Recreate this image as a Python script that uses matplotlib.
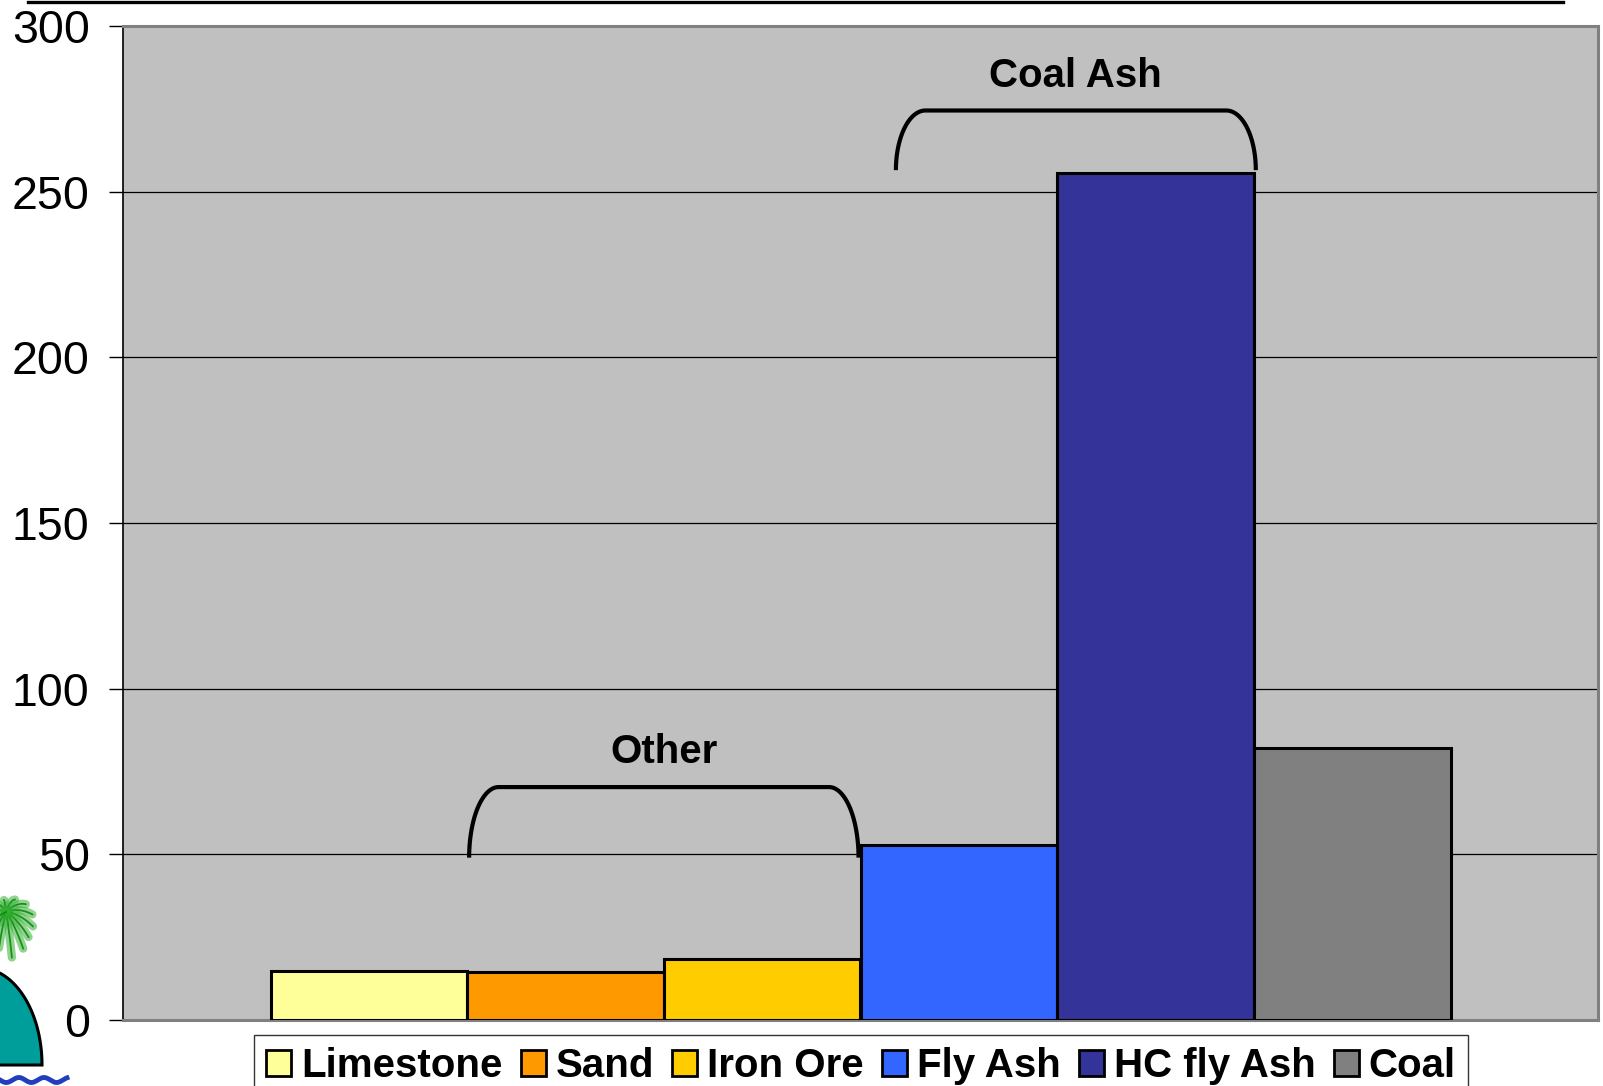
import numpy as np
import matplotlib
matplotlib.use("Agg")
import matplotlib.pyplot as plt
from matplotlib.patches import Patch, Polygon
from matplotlib.lines import Line2D

# Materials and their values
materials = ["Limestone", "Sand", "Iron Ore", "Fly Ash", "HC fly Ash", "Coal"]
values = [14.8, 14.6, 18.3, 52.9, 255.7, 82.2]
colors = ["#FFFF99", "#FF9900", "#FFCC00", "#3366FF", "#333399", "#808080"]
yticks = [0, 50, 100, 150, 200, 250, 300]

# Group brackets: (label, x_start, x_end, y_base, y_top)
groups = [
    ("Other", 0.51, 2.49, 49.0, 70.3),
    ("Coal Ash", 2.68, 4.51, 256.5, 274.5),
]

plt.rcParams["font.family"] = ["Liberation Sans", "DejaVu Sans"]

W, H = 1603, 1086
fig = plt.figure(figsize=(W / 100, H / 100), dpi=100)
fig.patch.set_facecolor("white")

ax = fig.add_axes([123 / W, 1 - 1020 / H, (1598 - 123) / W, (1020 - 26) / H])
ax.set_facecolor("#C0C0C0")

x = np.arange(len(materials))
for xi, v, c, name in zip(x, values, colors, materials):
    ax.bar(xi, v, width=1.0, color=c, edgecolor="black", linewidth=2.2,
           zorder=3, label=name)

ax.set_xlim(-1.25, 6.25)
ax.set_ylim(0, 300)
ax.set_yticks(yticks)
ax.set_yticklabels([str(t) for t in yticks], fontsize=33.5)
ax.set_xticks([])
ax.yaxis.grid(True, color="black", linewidth=0.9, zorder=1)
ax.set_axisbelow(True)
ax.tick_params(axis="y", length=10, width=1.0, color="black", pad=14)

for side in ("top", "right", "bottom"):
    ax.spines[side].set_color("#808080")
    ax.spines[side].set_linewidth(2.2)
ax.spines["left"].set_color("black")
ax.spines["left"].set_linewidth(1.2)


def bracket(ax, x0, x1, yb, yt, corner=0.15):
    t = np.linspace(0, np.pi / 2, 40)
    h = yt - yb
    # left quarter-ellipse rising from the base to the top bar
    lx = x0 + corner * (1 - np.cos(t))
    ly = yb + h * np.sin(t)
    # right quarter-ellipse falling back to the base
    rx = x1 - corner * (1 - np.cos(t[::-1]))
    ry = yb + h * np.sin(t[::-1])
    ax.plot(np.concatenate([lx, rx]), np.concatenate([ly, ry]),
            color="black", linewidth=3.0, zorder=4, solid_capstyle="butt")


for label, xs0, xs1, yb, yt in groups:
    bracket(ax, xs0, xs1, yb, yt)
    ax.text((xs0 + xs1) / 2, yt + 10.5, label, ha="center", va="center",
            fontsize=29, fontweight="bold", zorder=5)

# Legend below the plot
handles = [Patch(facecolor=c, edgecolor="black", linewidth=2.0) for c in colors]
leg = fig.legend(handles, materials, loc="upper center", ncol=6,
                 bbox_to_anchor=(861 / W, 1 - 1035 / H),
                 prop={"size": 29, "weight": "bold"},
                 handlelength=0.62, handleheight=0.62, handletextpad=0.25,
                 columnspacing=0.45, borderpad=0.3, borderaxespad=0.0,
                 frameon=True, fancybox=False, shadow=False)
leg.get_frame().set_edgecolor("black")
leg.get_frame().set_linewidth(1.0)
leg.get_frame().set_facecolor("white")

# Decorative overlay in pixel coordinates: header rule and corner logo
ov = fig.add_axes([0, 0, 1, 1], zorder=-1)
ov.set_xlim(0, W)
ov.set_ylim(H, 0)
ov.axis("off")
ov.add_line(Line2D([28, 1563], [1.5, 1.5], color="black", linewidth=2.4))

# teal dome
t = np.linspace(0, np.pi / 2, 60)
cx, cy, a, b = -20, 1065, 62, 97
arc = np.column_stack([cx + a * np.cos(t), cy - b * np.sin(t)])
ov.add_patch(Polygon(np.vstack([[cx, cy], arc]), closed=True,
                     facecolor="#009E9A", edgecolor="black", linewidth=2.2))

# palm fronds drooping from the crown
crown_x, crown_y = 6, 912
for ang, ln in [(-150, 18), (-120, 22), (-95, 24), (-70, 26), (-45, 28),
                (-20, 28), (5, 27), (30, 26), (55, 30), (80, 34), (105, 30),
                (130, 24), (160, 20)]:
    r = np.radians(ang)
    s = np.linspace(0, 1, 14)
    px = crown_x + ln * s * np.cos(r)
    py = crown_y + ln * s * np.sin(r) + 12 * s ** 2
    ov.plot(px, py, color="#33B033", linewidth=6.0, alpha=0.55,
            solid_capstyle="round")
    ov.plot(px, py, color="#0E8A0E", linewidth=1.3, alpha=0.9)

# waves
wx = np.linspace(0, 67, 200)
wy = 1080 + 2.5 * np.sin(wx / 4.0)
ov.plot(wx, wy, color="#1F3FBF", linewidth=3.5)

fig.savefig("out.png", dpi=100, facecolor="white")
